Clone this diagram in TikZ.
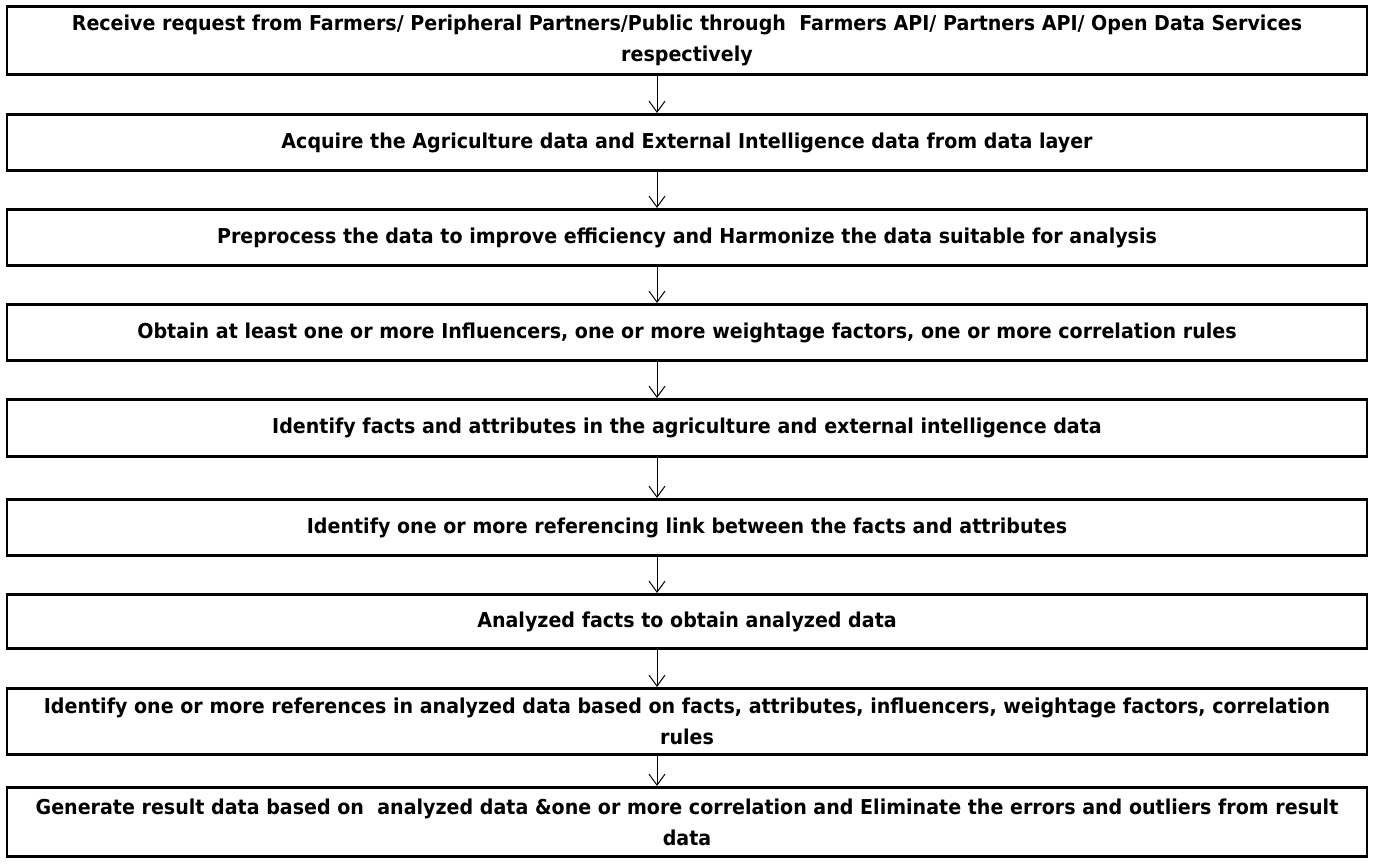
\documentclass[tikz,border=0pt]{standalone}
\usepackage{fontspec}
\setmainfont{DejaVu Sans}[FakeStretch=0.93]
\usepackage{tikz}
\usetikzlibrary{arrows.meta,positioning,calc}

\begin{document}
\begin{tikzpicture}[x=1pt,y=-1pt,>={Straight Barb[length=11pt,width=16pt]},
  stage/.style={draw,line width=2.6pt,minimum width=1360pt,align=center,inner sep=0pt,
    font=\bfseries\fontsize{20.5}{31}\selectfont}]
  \useasboundingbox (0,0) rectangle (1373,865);
  % stages, top to bottom
  \foreach \n/\y/\h/\t in {
     1/40.5/68.5/{Receive request from Farmers/ Peripheral Partners/Public through~ Farmers API/ Partners API/ Open Data Services\\respectively},
     2/142.5/56.5/{Acquire the Agriculture data and External Intelligence data from data layer},
     3/237.5/56.5/{Preprocess the data to improve efficiency and Harmonize the data suitable for analysis},
     4/332.5/56.5/{Obtain at least one or more Influencers, one or more weightage factors, one or more correlation rules},
     5/428/57.5/{Identify facts and attributes in the agriculture and external intelligence data},
     6/527.5/56.5/{Identify one or more referencing link between the facts and attributes},
     7/621.5/54.5/{Analyzed facts to obtain analyzed data},
     8/721.5/66.5/{Identify one or more references in analyzed data based on facts, attributes, influencers, weightage factors, correlation\\rules},
     9/822/69.5/{Generate result data based on~ analyzed data \&one or more correlation and Eliminate the errors and outliers from result\\data}}{
     \node[stage,minimum height=\h pt] (s\n) at (687,\y) {\t};}
  % flow
  \coordinate (axis) at (657,0);
  \foreach \a/\b in {1/2,2/3,3/4,4/5,5/6,6/7,7/8,8/9}{
     \draw[->,line width=1pt] (s\a.south -| axis) -- (s\b.north -| axis);}
\end{tikzpicture}
\end{document}
